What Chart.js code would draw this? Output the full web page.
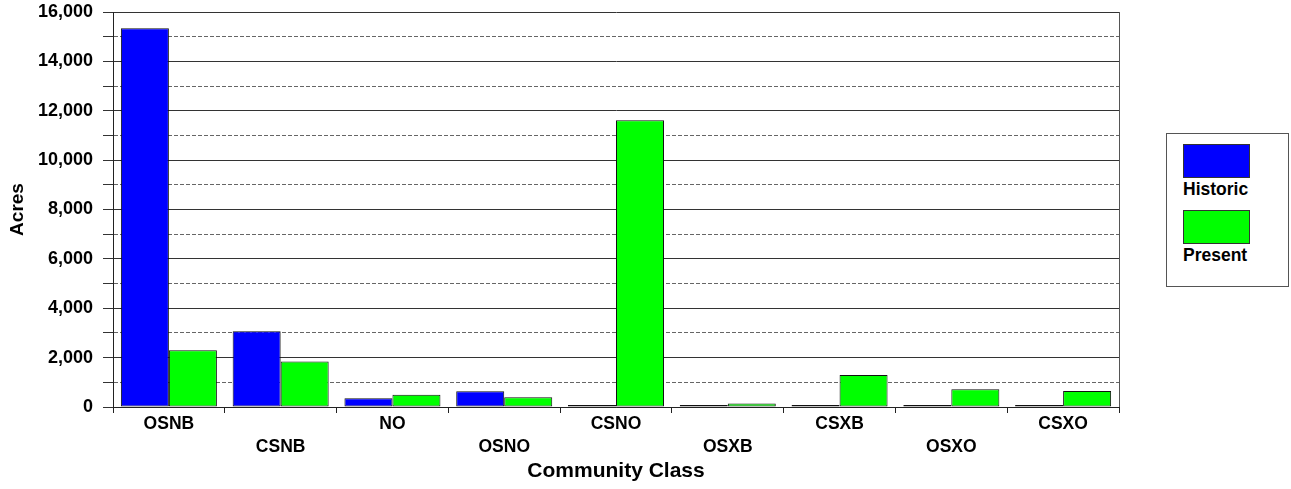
<!DOCTYPE html>
<html>
<head>
<meta charset="utf-8">
<script src="https://cdn.jsdelivr.net/npm/chart.js@4.4.1/dist/chart.umd.min.js"></script>
<style>
  body { margin: 0; background: #fff; }
  #wrap { position: relative; width: 1291px; height: 489px; }
  #legend {
    position: absolute; left: 1166px; top: 133px; width: 121px; height: 152px;
    border: 1px solid #555; background: #fff;
    font: bold 17.5px "Liberation Sans", Arial, sans-serif; color: #000;
  }
  .item { position: absolute; left: 16px; }
  .swatch { width: 65px; height: 32px; border: 1px solid #333; }
  .item span { display: block; line-height: 20px; margin-top: 1px; }
</style>
</head>
<body>
<div id="wrap">
  <canvas id="chart" width="1291" height="489"></canvas>
  <div id="legend"></div>
</div>
<script>
// Acres by community class
const categories = ['OSNB', 'CSNB', 'NO', 'OSNO', 'CSNO', 'OSXB', 'CSXB', 'OSXO', 'CSXO'];
const historic = [15340, 3070, 350, 640, 0, 0, 0, 0, 0];
const present = [2300, 1840, 500, 390, 11620, 140, 1300, 720, 650];
const yTicks = [0, 2000, 4000, 6000, 8000, 10000, 12000, 14000, 16000];

const FONT = '"Liberation Sans", Arial, sans-serif';

// staggered labels: every second one drops to a second line
const labels = categories.map((c, i) => i % 2 ? ['', c] : c);

// right side frame line of the plot
const framePlugin = {
    id: 'frame',
    beforeDatasetsDraw(chart) {
        const {ctx, chartArea} = chart;
        ctx.save();
        ctx.strokeStyle = '#555';
        ctx.lineWidth = 1;
        ctx.beginPath();
        ctx.moveTo(Math.round(chartArea.right) + 0.5, chartArea.top);
        ctx.lineTo(Math.round(chartArea.right) + 0.5, chartArea.bottom);
        ctx.stroke();
        ctx.restore();
    }
};

const ctx = document.getElementById('chart').getContext('2d');
const chart = new Chart(ctx, {
    type: 'bar',
    data: {
        labels: labels,
        datasets: [{
            label: 'Historic',
            data: historic,
            backgroundColor: '#0000FF',
            borderColor: '#111',
            borderWidth: 1,
            borderSkipped: false,
            minBarLength: 2
        }, {
            label: 'Present',
            data: present,
            backgroundColor: '#00FF00',
            borderColor: '#111',
            borderWidth: 1,
            borderSkipped: false
        }]
    },
    options: {
        responsive: false,
        animation: false,
        categoryPercentage: 0.859,
        barPercentage: 1.0,
        layout: {
            padding: { top: 12, right: 172, bottom: 0, left: 0 }
        },
        plugins: {
            legend: { display: false },
            tooltip: { enabled: false }
        },
        scales: {
            x: {
                grid: {
                    drawOnChartArea: false,
                    tickLength: 6,
                    tickColor: '#222'
                },
                border: { color: '#222', width: 1 },
                ticks: {
                    color: '#000',
                    font: { family: FONT, size: 17.5, weight: 'bold', lineHeight: 1.3 },
                    padding: 0,
                    autoSkip: false,
                    maxRotation: 0
                },
                title: {
                    display: true,
                    text: 'Community Class',
                    color: '#000',
                    font: { family: FONT, size: 21, weight: 'bold', lineHeight: 1.2 },
                    padding: { top: 0, bottom: 5 }
                },
                afterFit(scale) {
                    scale.height = 82;
                    scale.paddingLeft = 0;
                    scale.paddingRight = 0;
                }
            },
            y: {
                min: 0,
                max: 16000,
                ticks: {
                    stepSize: 1000,
                    autoSkip: false,
                    color: '#000',
                    padding: 10,
                    font: { family: FONT, size: 18, weight: 'bold' },
                    callback: function(value) {
                        return yTicks.includes(value) ? value.toLocaleString('en-US') : '';
                    }
                },
                grid: {
                    color: function(c) {
                        return c.tick && c.tick.value % 2000 ? '#666' : '#333';
                    },
                    tickLength: 10,
                    tickColor: '#333'
                },
                border: {
                    color: '#222',
                    dash: function(c) {
                        return c.tick && c.tick.value % 2000 ? [4, 2] : [];
                    }
                },
                title: {
                    display: true,
                    text: 'Acres',
                    color: '#000',
                    font: { family: FONT, size: 19, weight: 'bold', lineHeight: 1.2 },
                    padding: { top: 6, bottom: 0 }
                },
                afterFit(scale) {
                    scale.width = 113;
                    scale.paddingTop = 0;
                    scale.paddingBottom = 0;
                }
            }
        }
    },
    plugins: [framePlugin]
});

// legend box: swatch above the name, built from the datasets
const legend = document.getElementById('legend');
chart.data.datasets.forEach((ds, i) => {
    const item = document.createElement('div');
    item.className = 'item';
    item.style.top = (10 + i * 66) + 'px';
    const sw = document.createElement('div');
    sw.className = 'swatch';
    sw.style.background = ds.backgroundColor;
    const txt = document.createElement('span');
    txt.textContent = ds.label;
    item.appendChild(sw);
    item.appendChild(txt);
    legend.appendChild(item);
});
</script>
</body>
</html>
